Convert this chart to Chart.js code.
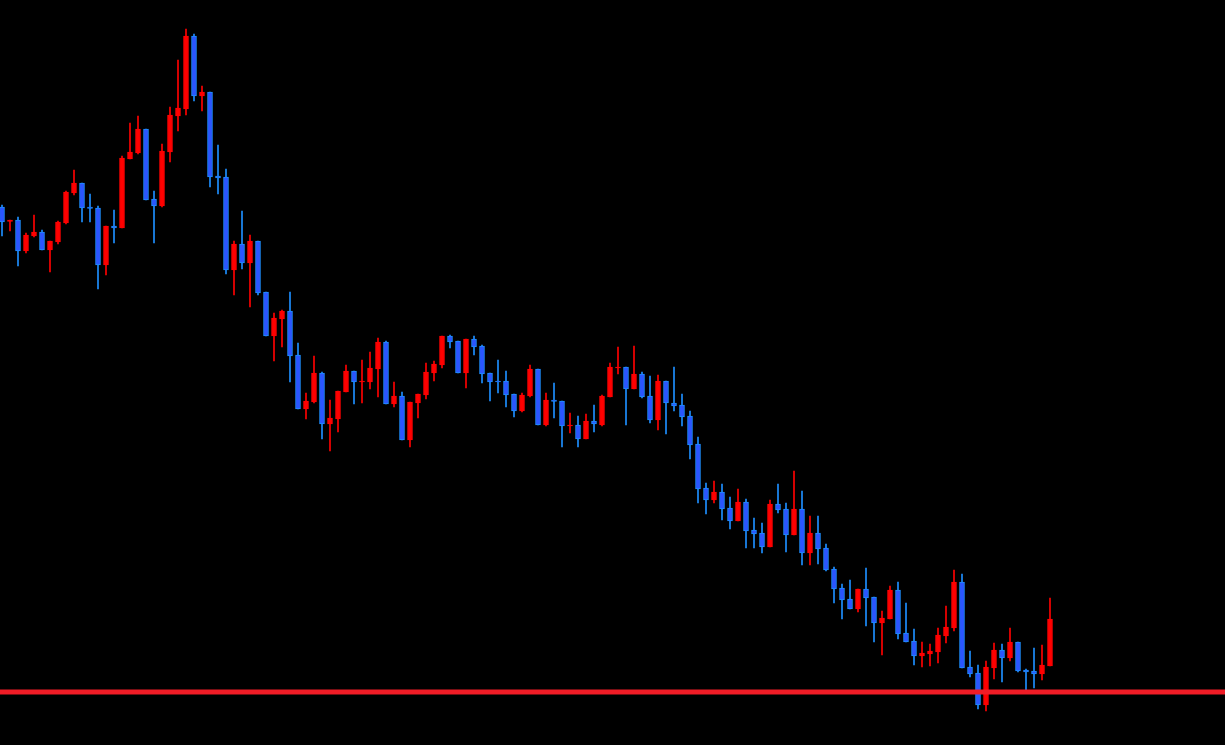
<!DOCTYPE html>
<html>
<head>
<meta charset="utf-8">
<script src="https://cdn.jsdelivr.net/npm/chart.js@4"></script>
<style>
  html, body { margin: 0; padding: 0; background: #000; overflow: hidden; }
  #wrap { position: relative; width: 1225px; height: 745px; }
</style>
</head>
<body>
<div id="wrap"><canvas id="candles"></canvas></div>
<script>
// price axis is drawn top-down (reversed)
const opens = [207,221.5,220,251,236,232,250,242,223,193,183,207,208,265,226,228,159,153,129,199,
  206,152,116,109,36,96,92,176,177,270,244,263,241,292,336,319,311,355,409,402,
  373,424,419,392,371,382,382,369,342,404,396,440,403,395,373,365,336,341,373,339,
  346,373,381,381,394,411,396,369,425,400,401,426,425,439,421,425,397,367.5,367,389,
  374,396,420,381,403,405,416,444,488,500,492,508,521,502,530,533,547,504,509,535,
  509,553,533,548,569,588,599,609,589,597,623,619,590,633,641,656,654,652,636,628,
  582,667,673,705,668,650,658,642,670,671,674,666];
const closes = [222,220,251,235,232,250,241,222,192,183,208,208.5,265,226,228,158,152,129,200,206,
  151,115,108,36,96,92,177,178,270,244,263,241,293,336,318,311,356,409,401,373,
  424,418,391,371,382,381,368,342,404,396,440,402,394,372,364,336,342,373,339,347,
  374,382,382,395,411,395,369,425,400,401.5,426,425,439,421,424,396,367,367,389,374,
  397,420,381,403,406,417,445,489,500,492,509,521,502,531,534,547,504,510,535,509,
  553,533,549,570,589,600,609,589,598,623,618,590,634,642,656,653,651,635,627,582,
  668,674,705,667,650,658,642,671,672,674,665,619];
const highs = [205,220,217,233,215,230,241,221,191,170,183,194,206,226,210,156,123,116,129,191,
  144,107,60,29,34,86,92,145,169,241,211,235,241,292,313,310,292,343,393,356,
  372,400,391,365,371,360,352,338,341,382,392,402,394,363,361,336,335,341,339,336,
  345,373,360,371,394,393,365,369,393,383,401,413,416,414,405,395,363,347,367,346,
  372,376,375,381,367,394,411,437,483,481,484,497,489,499,518,523,500,484,503,471,
  491,516,516,544,567,584,580,589,568,597,611,586,582,603,629,642,644,628,606,570,
  574,651,665,661,643,644,628,642,669,648,645,598];
const lows = [236,231,266,253,237,250,272,244,224,195,222,222,289,275,243,228,159,154,200,243,
  207,162,131,115,101,111,187,194,274,295,269,307,295,336,361,347,382,409,419,403,
  439,451,432,392,404,403,389,397,404,407,440,447,418,399,381,368,348,373,388,355,
  383,401,393,407,417,412,397,425,426,418,447,433,447,439,432,426,397,374,425,389,
  398,423,430,434,411,426,459,503,514,503,520,529,521,548,548,553,547,513,552,535,
  565,565,564,571,603,619,609,612,626,642,655,619,639,642,665,667,666,663,643,631,
  668,677,709,711,679,682,661,672,690,688,680,666];
const supportLevel = 692;

const UP = '#ff0000';
const DOWN_FILL = '#2b55ff';
const DOWN_EDGE = '#1e8fff';

const isUp = opens.map((o, i) => closes[i] <= o);

const bodies = opens.map((o, i) => ({x: i, y: [o, closes[i]]}));
const wicks = opens.map((o, i) => ({x: i, y: [lows[i], highs[i]]}));

new Chart(document.getElementById('candles'), {
  type: 'bar',
  data: {
    datasets: [
      {
        type: 'line',
        data: [{x: -2, y: supportLevel}, {x: 155, y: supportLevel}],
        borderColor: '#f01c26',
        borderWidth: 5,
        pointRadius: 0,
        order: 0
      },
      {
        data: bodies,
        backgroundColor: isUp.map(u => u ? UP : DOWN_FILL),
        borderColor: isUp.map(u => u ? UP : DOWN_EDGE),
        borderWidth: 1,
        borderSkipped: false,
        barThickness: 5,
        minBarLength: 1,
        grouped: false,
        order: 1
      },
      {
        data: wicks,
        backgroundColor: isUp.map(u => u ? UP : DOWN_EDGE),
        borderWidth: 0,
        barThickness: 1,
        grouped: false,
        order: 2
      }
    ]
  },
  options: {
    responsive: true,
    maintainAspectRatio: false,
    animation: false,
    layout: {padding: 0},
    plugins: {legend: {display: false}, tooltip: {enabled: false}},
    scales: {
      x: {type: 'linear', min: -0.25, max: 152.875, offset: false, display: false},
      y: {min: 0, max: 745, reverse: true, display: false}
    }
  }
});
</script>
</body>
</html>
